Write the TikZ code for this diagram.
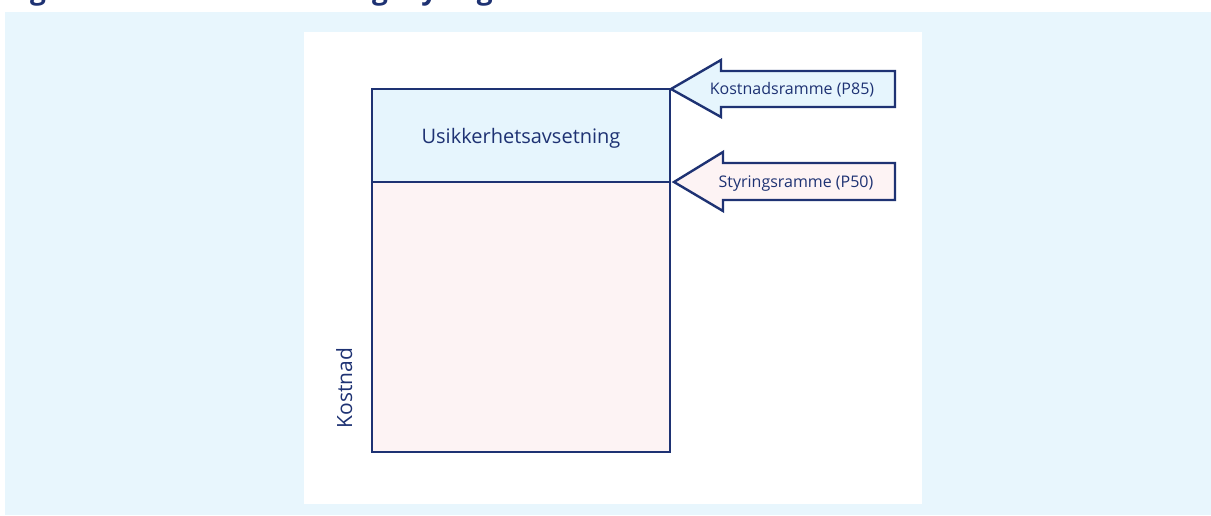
\documentclass[tikz,border=0pt]{standalone}
\usepackage{fontspec}
\setmainfont{Open Sans}
\definecolor{navy}{RGB}{30,50,115}
\definecolor{panelblue}{RGB}{232,246,253}
\definecolor{boxblue}{RGB}{230,245,253}
\definecolor{boxpink}{RGB}{253,243,244}
\begin{document}
\begin{tikzpicture}[x=1pt,y=-1pt,
  outline/.style={draw=navy,line width=2.4pt,line join=miter},
  lbl/.style={text=navy,inner sep=0pt,anchor=base,font=\fontsize{16}{19}\selectfont},
  biglbl/.style={text=navy,inner sep=0pt,anchor=base,font=\fontsize{20}{24}\selectfont}]
\useasboundingbox (0,0) rectangle (1211,515);
\fill[white] (0,0) rectangle (1211,515);
% title, clipped at the top edge as in the reference
\begin{scope}
\clip (0,0) rectangle (1211,12);
\node[anchor=base west,inner sep=0pt,text=navy,font=\fontsize{28}{32}\bfseries\selectfont] (title) at (6,-1) {Figur 1: Kostnadsramme og styringsramme};
\end{scope}
\fill[panelblue] (5,12) rectangle (1211,515);
\fill[white] (304,32) rectangle (922,504);
% boxes
\draw[outline,fill=boxblue] (372,89) rectangle (670,182);
\draw[outline,fill=boxpink] (372,182) rectangle (670,452);
\coordinate (top) at (671,89);
\coordinate (mid) at (674,182);
\node[biglbl] (usik) at (521,143) {Usikkerhetsavsetning};
\node[biglbl,rotate=90,font=\fontsize{21}{24}\selectfont] (kost) at (352,388) {Kostnad};
% arrows
\draw[outline,fill=boxblue] (top) -- (721,60) -- (721,71) -- (895,71) -- (895,107) -- (721,107) -- (721,117) -- cycle;
\node[lbl] (p85) at (792,94) {Kostnadsramme (P85)};
\draw[outline,fill=boxpink] (mid) -- (723,152) -- (723,163) -- (895,163) -- (895,200) -- (723,200) -- (723,211) -- cycle;
\node[lbl] (p50) at (796,187) {Styringsramme (P50)};
\end{tikzpicture}
\end{document}
